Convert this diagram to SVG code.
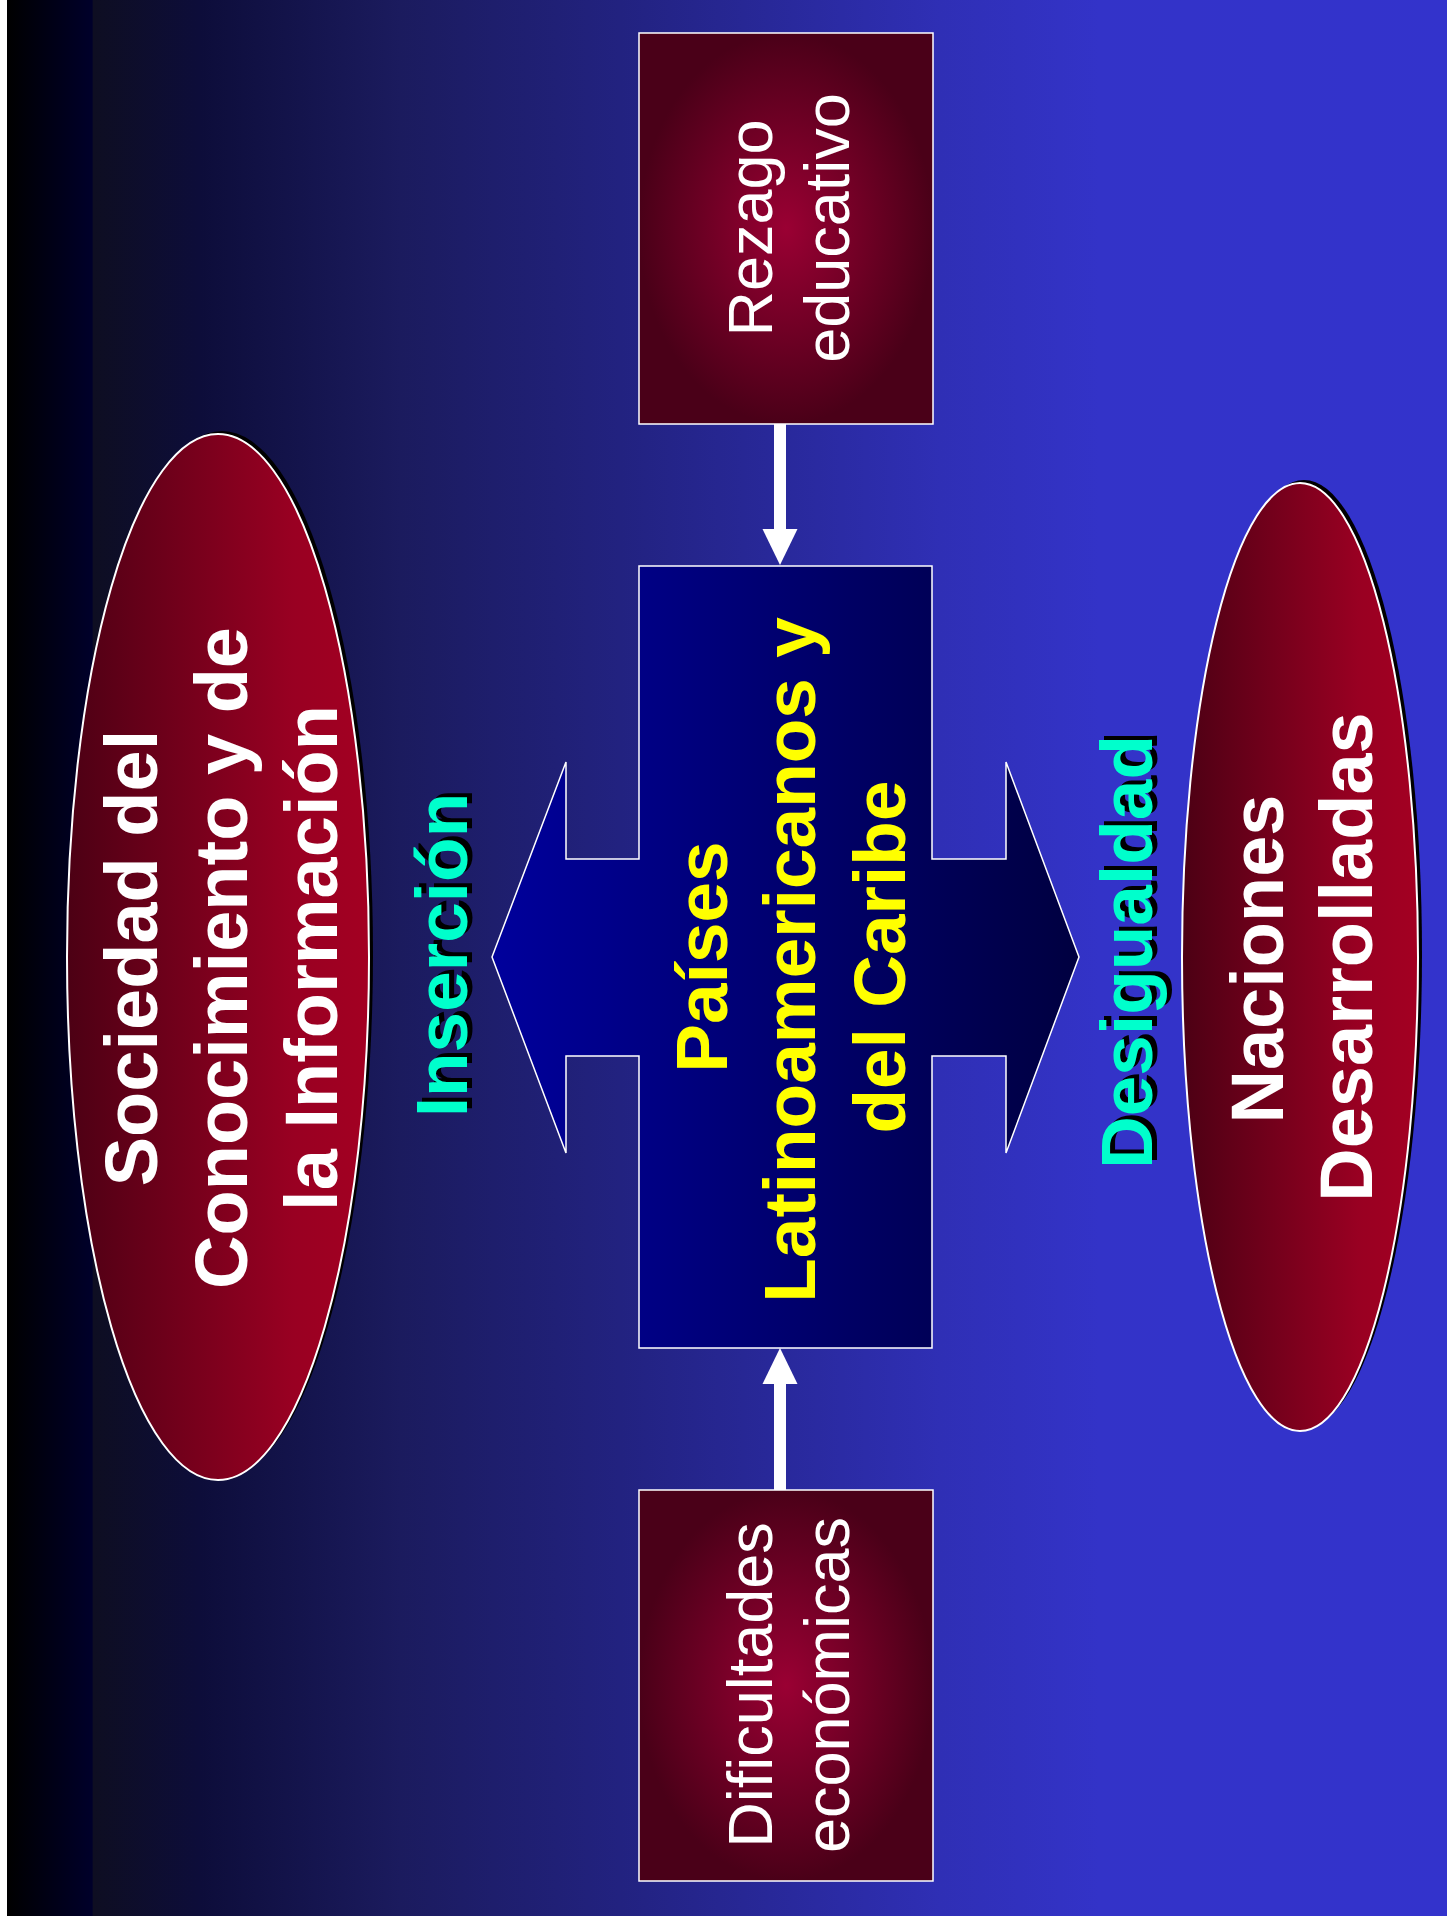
<svg xmlns="http://www.w3.org/2000/svg" width="1447" height="1917" viewBox="0 0 1447 1917">
<defs>
<linearGradient id="bg" gradientUnits="userSpaceOnUse" x1="7" y1="0" x2="1447" y2="0">
<stop offset="0" stop-color="#000000"/>
<stop offset="0.059" stop-color="#00002a"/>
<stop offset="0.060" stop-color="#0e0e22"/>
<stop offset="0.134" stop-color="#0d0d3a"/>
<stop offset="0.273" stop-color="#1b1b5e"/>
<stop offset="0.426" stop-color="#222280"/>
<stop offset="0.648" stop-color="#2f2fb5"/>
<stop offset="0.759" stop-color="#3333c8"/>
<stop offset="1" stop-color="#3333cc"/>
</linearGradient>
<linearGradient id="blueFill" x1="0" y1="0" x2="1" y2="0">
<stop offset="0" stop-color="#00009c"/>
<stop offset="1" stop-color="#000040"/>
</linearGradient>
<linearGradient id="ellFill" x1="0" y1="0" x2="1" y2="0">
<stop offset="0" stop-color="#4c0014"/>
<stop offset="0.75" stop-color="#990022"/>
<stop offset="1" stop-color="#a30022"/>
</linearGradient>
<radialGradient id="boxFill" cx="0.5" cy="0.5" r="0.5">
<stop offset="0" stop-color="#9a0033"/>
<stop offset="1" stop-color="#4a0018"/>
</radialGradient>
<marker id="head" markerUnits="userSpaceOnUse" markerWidth="36" markerHeight="36" refX="0" refY="17.5" orient="auto" viewBox="0 0 36 35">
<path d="M0,0 L36,17.5 L0,35 Z" fill="#ffffff"/>
</marker>
<style>
.box{fill:url(#boxFill);stroke:#ffffff;stroke-width:1.5}
.ell{fill:url(#ellFill);stroke:#ffffff;stroke-width:2}
.shadow{fill:#000000}
.t{font-family:"Liberation Sans",Arial,Helvetica,sans-serif;text-anchor:middle}
.reg{font-size:63px;fill:#ffffff}
.bw{font-size:74px;font-weight:bold;fill:#ffffff}
.by{font-size:73px;font-weight:bold;fill:#ffff00}
.lab{font-size:73px;font-weight:bold;fill:#00ffcc}
.labsh{font-size:73px;font-weight:bold;fill:#000000}
.conn{stroke:#ffffff;stroke-width:12;fill:none}
</style>
</defs>
<rect x="0" y="0" width="1447" height="1917" fill="#ffffff"/>
<rect x="7" y="0" width="1440" height="1916" fill="url(#bg)"/>

<g id="node-sociedad">
<ellipse class="shadow" cx="222" cy="954" rx="151" ry="523"/>
<ellipse class="ell" cx="218" cy="957" rx="151" ry="523"/>
<text class="t bw" transform="translate(157,958) rotate(-90)">Sociedad del</text>
<text class="t bw" transform="translate(247,958) rotate(-90)">Conocimiento y de</text>
<text class="t bw" transform="translate(337,958) rotate(-90)">la Información</text>
</g>

<g id="node-naciones">
<ellipse class="shadow" cx="1304" cy="954" rx="118" ry="474"/>
<ellipse class="ell" cx="1300" cy="957" rx="118" ry="474"/>
<text class="t bw" transform="translate(1283,959) rotate(-90)">Naciones</text>
<text class="t bw" transform="translate(1372,957) rotate(-90)">Desarrolladas</text>
</g>

<g id="node-rezago">
<rect class="box" x="639" y="33" width="294" height="391"/>
<text class="t reg" transform="translate(772,228) rotate(-90)">Rezago</text>
<text class="t reg" transform="translate(849,228) rotate(-90)">educativo</text>
</g>

<g id="node-dificultades">
<rect class="box" x="639" y="1490" width="294" height="391"/>
<text class="t reg" transform="translate(772,1685) rotate(-90)">Dificultades</text>
<text class="t reg" transform="translate(849,1685) rotate(-90)">económicas</text>
</g>

<g id="node-paises">
<path d="M639,566 H932 V859 H1006 V762 L1079,957 L1006,1153 V1056 H932 V1348 H639 V1056 H566 V1153 L492,957 L566,762 V859 H639 Z" fill="url(#blueFill)" stroke="#ffffff" stroke-width="1.5"/>
<text class="t by" transform="translate(727,957) rotate(-90)">Países</text>
<text class="t by" transform="translate(815,960) rotate(-90)">Latinoamericanos y</text>
<text class="t by" transform="translate(905,957) rotate(-90)">del Caribe</text>
</g>

<g id="label-insercion">
<text class="t labsh" transform="translate(472,951) rotate(-90)">Inserción</text>
<text class="t lab" transform="translate(467,955) rotate(-90)">Inserción</text>
</g>

<g id="label-desigualdad">
<text class="t labsh" transform="translate(1157,948) rotate(-90)">Desigualdad</text>
<text class="t lab" transform="translate(1152,952) rotate(-90)">Desigualdad</text>
</g>

<g id="connectors">
<line class="conn" x1="780" y1="424" x2="780" y2="529" marker-end="url(#head)"/>
<line class="conn" x1="780" y1="1490" x2="780" y2="1384" marker-end="url(#head)"/>
</g>
</svg>
